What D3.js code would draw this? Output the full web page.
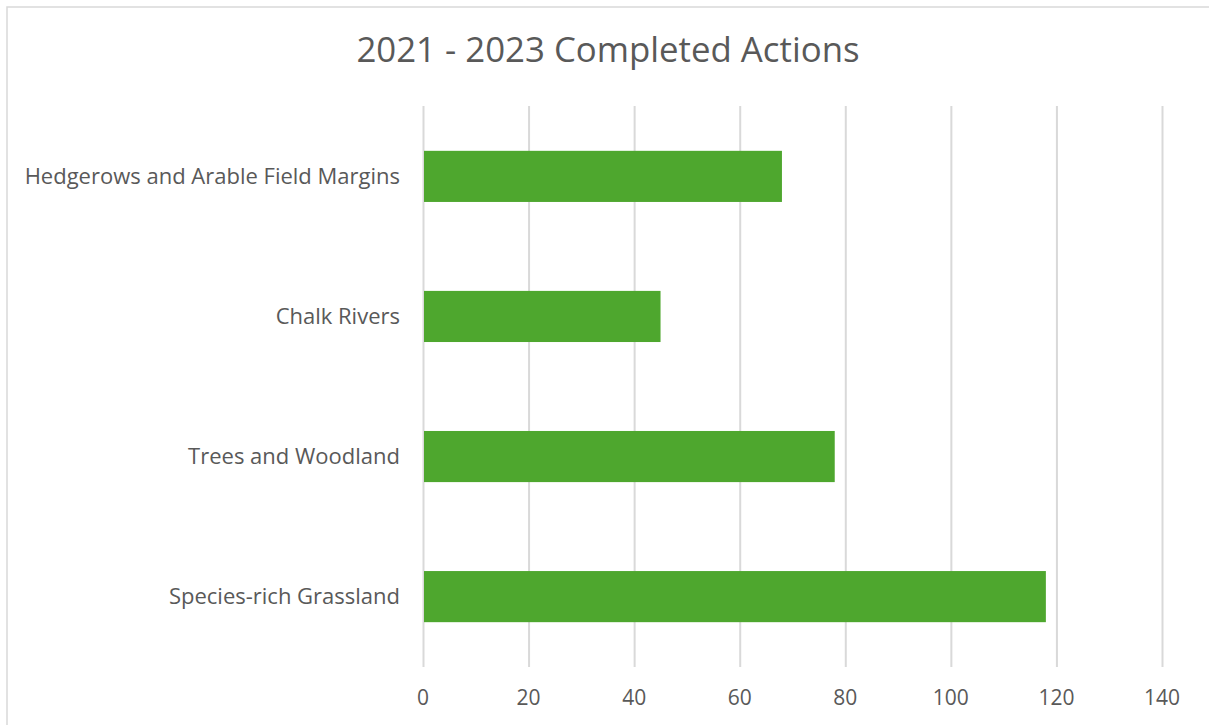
<!DOCTYPE html>
<html>
<head>
  <script src="https://d3js.org/d3.v7.min.js"></script>
  <style>
    body { margin: 0; background: #fff; }
    text { font-family: "Open Sans", sans-serif; fill: #595959; }
    .grid line { stroke: #d9d9d9; stroke-width: 2; }
    .grid path { display: none; }
  </style>
</head>
<body>
<div id="chart"></div>
<script>
const categories = ["Hedgerows and Arable Field Margins", "Chalk Rivers", "Trees and Woodland", "Species-rich Grassland"];
const values = [68, 45, 78, 118];
const ticks = [0, 20, 40, 60, 80, 100, 120, 140];

const W = 1209, H = 725;
const margin = {top: 106, right: 47, bottom: 58, left: 423};

const svg = d3.select("#chart").append("svg")
  .attr("width", W).attr("height", H);

// chart frame
svg.append("rect")
  .attr("x", 7).attr("y", 7)
  .attr("width", W + 10).attr("height", H + 10)
  .attr("fill", "none").attr("stroke", "#d9d9d9").attr("stroke-width", 1.5);

const x = d3.scaleLinear().domain([0, 140]).range([margin.left, W - margin.right]);
const y = d3.scaleBand().domain(categories)
  .range([margin.top, H - margin.bottom])
  .paddingInner(0.635).paddingOuter(0.32);

// gridlines
svg.append("g").attr("class", "grid")
  .attr("transform", "translate(0," + margin.top + ")")
  .call(d3.axisBottom(x).tickValues(ticks).tickSize(H - margin.bottom - margin.top).tickFormat(""));

// tick labels
svg.selectAll(".tick-label")
  .data(ticks)
  .enter().append("text")
  .attr("class", "tick-label")
  .attr("x", d => x(d))
  .attr("y", 705)
  .attr("text-anchor", "middle")
  .attr("font-size", 21)
  .text(d => d);

// bars
svg.selectAll(".bar")
  .data(values)
  .enter().append("rect")
  .attr("class", "bar")
  .attr("x", x(0) + 1)
  .attr("y", (d, i) => y(categories[i]))
  .attr("width", d => x(d) - x(0) - 1)
  .attr("height", y.bandwidth())
  .attr("fill", "#4ea72e");

// category labels
svg.selectAll(".cat-label")
  .data(categories)
  .enter().append("text")
  .attr("class", "cat-label")
  .attr("x", 400)
  .attr("y", d => y(d) + y.bandwidth() / 2)
  .attr("dy", "0.35em")
  .attr("text-anchor", "end")
  .attr("font-size", 22)
  .text(d => d);

// title
svg.append("text")
  .attr("x", 608)
  .attr("y", 62)
  .attr("text-anchor", "middle")
  .attr("font-size", 34.8)
  .text("2021 - 2023 Completed Actions");
</script>
</body>
</html>
